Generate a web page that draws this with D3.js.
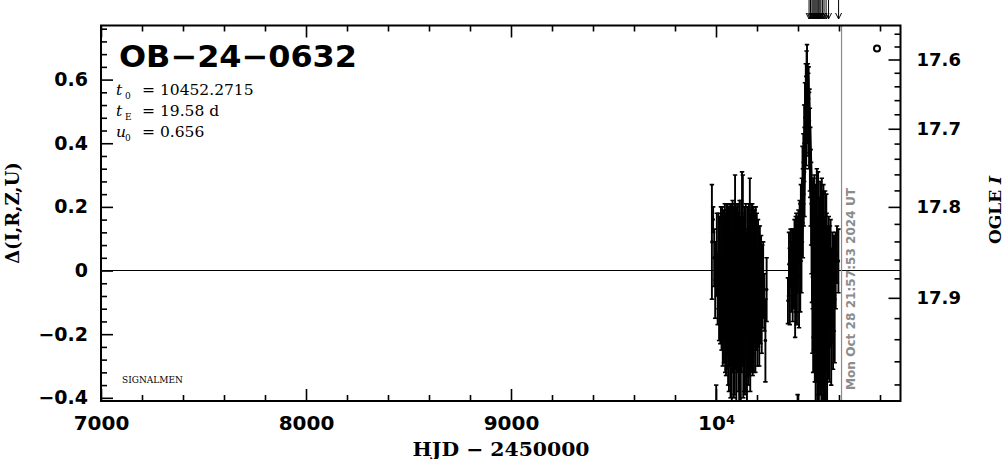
<!DOCTYPE html>
<html><head><meta charset="utf-8">
<script src="https://cdn.jsdelivr.net/npm/d3@7"></script>
<style>body{margin:0;background:#fff}svg{display:block}</style>
</head><body>
<svg id="chart" width="1004" height="459"></svg>
<script>
// ---------- values ----------
const eventName = "OB-24-0632";
const t0 = "10452.2715", tE = "19.58", u0 = "0.656";
const nowHJD = 10612.415;
const nowLabel = "Mon Oct 28 21:57:53 2024 UT";
const surveyNote = "SIGNALMEN";

const xDomain = [7000, 10900];
const yDomain = [-0.41, 0.77];
const xMajorTicks = [7000, 8000, 9000, 10000];
const yMajorTicks = [-0.4, -0.2, 0, 0.2, 0.4, 0.6];
const magMajorTicks = [17.6, 17.7, 17.8, 17.9];

// [HJD-2450000, delta, error]
const season2023 = [
 [9980,0.09,0.18],[9986,0.16,0.04],[9991,0.04,0.09],[9996,-0.03,0.12],[10001,-0.48,0.12],
 [10004,0.05,0.13],[10008,-0.06,0.11],[10012,0.03,0.15],[10015,-0.08,0.14],[10018,0.05,0.12],
 [10021,-0.04,0.19],[10024,0.08,0.12],[10027,-0.10,0.15],[10030,0.00,0.20],[10033,-0.07,0.23],
 [10036,0.04,0.15],[10039,-0.12,0.17],[10041,-0.03,0.18],[10043,0.05,0.16],[10045,-0.10,0.22],
 [10047,-0.02,0.20],[10049,-0.15,0.18],[10051,0.04,0.17],[10053,-0.06,0.25],[10055,-0.12,0.14],
 [10057,0.02,0.19],[10059,-0.08,0.28],[10061,-0.04,0.15],[10063,-0.18,0.20],[10065,0.06,0.14],
 [10067,-0.09,0.21],[10069,-0.01,0.22],[10071,-0.14,0.26],[10073,0.03,0.18],[10075,-0.07,0.16],
 [10077,-0.20,0.21],[10079,0.00,0.21],[10081,-0.05,0.27],[10083,-0.11,0.17],[10085,0.04,0.16],
 [10087,-0.16,0.24],[10089,-0.03,0.19],[10091,-0.09,0.30],[10093,0.08,0.22],[10095,-0.13,0.18],
 [10097,-0.02,0.23],[10099,-0.22,0.20],[10101,0.05,0.15],[10103,-0.07,0.25],[10105,-0.15,0.16],
 [10107,0.01,0.20],[10109,-0.10,0.28],[10111,-0.04,0.17],[10113,-0.19,0.24],[10115,0.06,0.16],
 [10117,-0.08,0.22],[10119,-0.01,0.18],[10121,-0.16,0.26],[10123,0.03,0.19],[10125,-0.12,0.20],
 [10127,0.10,0.21],[10129,-0.06,0.24],[10131,0.05,0.25],[10133,-0.21,0.19],[10135,-0.03,0.20],
 [10137,-0.11,0.27],[10139,0.02,0.18],[10141,-0.17,0.22],[10143,-0.05,0.16],[10145,0.04,0.17],
 [10147,-0.13,0.25],[10149,-0.08,0.20],[10151,-0.24,0.18],[10153,0.01,0.19],[10155,-0.10,0.23],
 [10157,-0.02,0.15],[10159,-0.15,0.21],[10161,0.03,0.18],[10163,-0.07,0.26],[10165,0.12,0.17],
 [10167,-0.18,0.20],[10169,-0.04,0.22],[10171,-0.12,0.16],[10173,0.02,0.19],[10175,-0.08,0.24],
 [10177,0.01,0.20],[10179,-0.14,0.19],[10181,-0.03,0.23],[10183,0.04,0.16],[10185,-0.11,0.21],
 [10187,-0.05,0.18],[10189,0.02,0.17],[10192,-0.13,0.19],[10194,-0.02,0.22],[10197,-0.09,0.16],
 [10199,0.03,0.15],[10202,-0.12,0.18],[10205,-0.04,0.20],[10208,0.00,0.14],[10211,-0.10,0.20],
 [10214,-0.03,0.17],[10217,-0.08,0.15],[10220,-0.01,0.12],[10223,-0.12,0.14],[10226,-0.05,0.13],
 [10230,-0.03,0.12],[10236,-0.10,0.09],[10241,-0.22,0.13],[10247,-0.06,0.10]
];
const season2024 = [
 [10351,-0.095,0.072],[10356,0.02,0.10],[10360,-0.05,0.12],[10364,0.04,0.09],[10367,-0.02,0.11],
 [10371,0.06,0.07],[10374,-0.06,0.10],[10377,0.01,0.12],[10380,-0.03,0.09],[10383,0.05,0.11],
 [10386,-0.08,0.13],[10389,0.02,0.15],[10392,0.08,0.10],[10395,-0.04,0.13],[10398,-0.52,0.13],
 [10399,0.05,0.12],[10402,0.11,0.08],[10405,-0.02,0.16],[10408,0.12,0.10],[10411,0.04,0.17],
 [10414,0.15,0.12],[10417,0.07,0.14],[10419,0.19,0.10],[10422,0.27,0.12],[10424,0.18,0.14],
 [10426,0.32,0.11],[10428,0.24,0.10],[10430,0.40,0.12],[10432,0.31,0.14],[10434,0.48,0.11],
 [10436,0.42,0.10],[10438,0.53,0.12],[10440,0.47,0.14],[10442,0.58,0.11],[10444,0.60,0.11],
 [10446,0.52,0.12],[10448,0.56,0.09],[10450,0.49,0.13],[10452,0.54,0.10],[10454,0.44,0.12],
 [10456,0.47,0.10],[10458,0.38,0.13],[10460,0.34,0.11],[10462,0.26,0.12],[10464,0.21,0.13],
 [10466,0.14,0.15],[10468,0.08,0.18],[10470,-0.02,0.24],[10472,0.08,0.20],[10474,-0.10,0.22],
 [10476,0.04,0.25],[10478,-0.06,0.19],[10480,0.10,0.20],[10482,-0.14,0.21],[10484,-0.01,0.28],
 [10486,-0.20,0.23],[10488,0.05,0.18],[10490,-0.09,0.26],[10492,0.02,0.30],[10494,-0.17,0.25],
 [10496,-0.04,0.21],[10498,0.07,0.24],[10500,-0.12,0.27],[10502,-0.25,0.20],[10504,0.00,0.23],
 [10506,-0.08,0.29],[10508,0.09,0.19],[10510,-0.15,0.24],[10512,-0.03,0.22],[10514,-0.21,0.22],
 [10516,0.03,0.26],[10518,-0.10,0.20],[10520,-0.06,0.31],[10522,-0.18,0.25],[10524,0.05,0.22],
 [10526,-0.13,0.28],[10528,-0.02,0.19],[10530,-0.23,0.21],[10532,0.01,0.24],[10534,-0.09,0.22],
 [10536,-0.16,0.26],[10538,0.04,0.20],[10540,-0.07,0.25],[10542,-0.19,0.24],[10544,-0.04,0.18],
 [10547,-0.12,0.22],[10550,0.00,0.17],[10553,-0.15,0.20],[10556,-0.05,0.19],[10559,0.02,0.14],
 [10562,-0.17,0.19],[10565,-0.08,0.15],[10568,-0.01,0.13],[10571,-0.13,0.18],[10575,-0.04,0.15],
 [10579,-0.09,0.20],[10584,0.00,0.12],[10590,0.05,0.09],[10597,0.03,0.10]
];
// model curve [HJD-2450000, delta]
const modelCurve = [
 [7000,0],[10380,0],[10412,0.05],[10422,0.10],[10432,0.22],[10442,0.44],[10452,0.61],
 [10462,0.44],[10472,0.22],[10482,0.10],[10492,0.05],[10530,0],[10900,0]
];
// arrow marks above the frame
const arrowTimes = [10454,10461,10468,10473,10478,10483,10488,10493,10498,10502,10507,10512,10520,10527,10537,10549,10598];

// ---------- drawing ----------
const svg = d3.select("#chart");
const L = 101, R = 900.5, T = 25.5, B = 401;
const x = d3.scaleLinear().domain(xDomain).range([L, R]);
const y = d3.scaleLinear().domain(yDomain).range([B, T]);

// right axis: OGLE I magnitude mapped onto delta
const magToDelta = m => 2.5 * Math.log10(2.884 * Math.pow(10, -0.4 * (m - 17.9)) - 1.96);
const magMinorTicks = d3.range(17.56, 17.99, 0.02).map(v => +v.toFixed(2));
const magKnots = [17.546].concat(magMinorTicks, [17.994]);
const yMag = d3.scaleLinear().domain(magKnots).range(magKnots.map(m => y(magToDelta(m))));

const numFont = "DejaVu Sans, sans-serif";
const serifFont = "DejaVu Serif, serif";

svg.append("defs").append("clipPath").attr("id","clip")
  .append("rect").attr("x",L).attr("y",T).attr("width",R-L).attr("height",B-T);

function styleAxis(g, size) {
  g.select(".domain").remove();
  g.attr("font-family", numFont).attr("font-size", size).attr("font-weight","bold");
  g.selectAll("line").attr("stroke","#000").attr("stroke-width",1.6);
  g.selectAll("text").attr("fill","#000");
}
const xMinor = d3.range(7000, 10901, 200).filter(v => v % 1000 !== 0);
const yMinor = d3.range(-40, 77, 4).map(v => v/100).filter(v => Math.round(v*100) % 20 !== 0);

// bottom
svg.append("g").attr("transform",`translate(0,${B})`)
  .call(d3.axisBottom(x).tickValues(xMajorTicks).tickSizeInner(-12).tickSizeOuter(0).tickPadding(15)
    .tickFormat(d => d === 10000 ? "" : String(d)))
  .call(g => styleAxis(g, 20))
  .call(g => g.selectAll(".tick").filter(d => d === 10000).select("text")
     .call(t => { t.append("tspan").text("10"); t.append("tspan").attr("dy","-0.45em").attr("font-size",13).text("4"); }));
svg.append("g").attr("transform",`translate(0,${B})`)
  .call(d3.axisBottom(x).tickValues(xMinor).tickSizeInner(-6).tickSizeOuter(0).tickFormat(""))
  .call(g => styleAxis(g, 20));
// top
svg.append("g").attr("transform",`translate(0,${T})`)
  .call(d3.axisTop(x).tickValues(xMajorTicks).tickSizeInner(-12).tickSizeOuter(0).tickFormat(""))
  .call(g => styleAxis(g, 20));
svg.append("g").attr("transform",`translate(0,${T})`)
  .call(d3.axisTop(x).tickValues(xMinor).tickSizeInner(-6).tickSizeOuter(0).tickFormat(""))
  .call(g => styleAxis(g, 20));
// left
svg.append("g").attr("transform",`translate(${L},0)`)
  .call(d3.axisLeft(y).tickValues(yMajorTicks).tickSizeInner(-12).tickSizeOuter(0).tickPadding(13)
    .tickFormat(d => d === 0 ? "0" : d3.format(".1f")(d).replace("-", "\u2212")))
  .call(g => styleAxis(g, 19));
svg.append("g").attr("transform",`translate(${L},0)`)
  .call(d3.axisLeft(y).tickValues(yMinor).tickSizeInner(-6).tickSizeOuter(0).tickFormat(""))
  .call(g => styleAxis(g, 19));
// right
svg.append("g").attr("transform",`translate(${R},0)`)
  .call(d3.axisRight(yMag).tickValues(magMajorTicks).tickSizeInner(-12).tickSizeOuter(0).tickPadding(16)
    .tickFormat(d3.format(".1f")))
  .call(g => styleAxis(g, 18));
svg.append("g").attr("transform",`translate(${R},0)`)
  .call(d3.axisRight(yMag).tickValues(magMinorTicks.filter(v => !magMajorTicks.includes(v))).tickSizeInner(-6).tickSizeOuter(0).tickFormat(""))
  .call(g => styleAxis(g, 18));

// model curve
const plot = svg.append("g").attr("clip-path","url(#clip)");
plot.append("path").datum(modelCurve)
  .attr("d", d3.line().x(d => x(d[0])).y(d => y(d[1])))
  .attr("fill","none").attr("stroke","#000").attr("stroke-width",1.1);

// data with error bars
const allData = season2023.concat(season2024);
const pts = plot.append("g").selectAll("g").data(allData).join("g");
pts.append("line").attr("x1", d => x(d[0])).attr("x2", d => x(d[0]))
  .attr("y1", d => y(d[1]-d[2])).attr("y2", d => y(d[1]+d[2]))
  .attr("stroke","#000").attr("stroke-width",1.9);
pts.append("line").attr("x1", d => x(d[0])-2.2).attr("x2", d => x(d[0])+2.2)
  .attr("y1", d => y(d[1]-d[2])).attr("y2", d => y(d[1]-d[2]))
  .attr("stroke","#000").attr("stroke-width",1.6);
pts.append("line").attr("x1", d => x(d[0])-2.2).attr("x2", d => x(d[0])+2.2)
  .attr("y1", d => y(d[1]+d[2])).attr("y2", d => y(d[1]+d[2]))
  .attr("stroke","#000").attr("stroke-width",1.6);
pts.append("circle").attr("cx", d => x(d[0])).attr("cy", d => y(d[1])).attr("r",1.8).attr("fill","#000");

// current time line
svg.append("line").attr("x1", x(nowHJD)).attr("x2", x(nowHJD)).attr("y1", T).attr("y2", B)
  .attr("stroke","#8c8c8c").attr("stroke-width",1.2);
svg.append("text").attr("transform",`translate(${x(nowHJD)+13.5},${B-11}) rotate(-90)`)
  .attr("font-family", numFont).attr("font-weight","bold").attr("font-size",12.5)
  .attr("fill","#8c8c8c").attr("textLength",202).attr("lengthAdjust","spacingAndGlyphs")
  .text(nowLabel);

// arrows above frame
const arr = svg.append("g").attr("stroke","#000").attr("stroke-width",1).attr("fill","none");
arrowTimes.forEach(t => {
  const xx = x(t);
  arr.append("line").attr("x1",xx).attr("x2",xx).attr("y1",0).attr("y2",19);
  arr.append("path").attr("d",`M${xx-3},13L${xx},19L${xx+3},13`);
});

// frame
svg.append("rect").attr("x",L).attr("y",T).attr("width",R-L).attr("height",B-T)
  .attr("fill","none").attr("stroke","#000").attr("stroke-width",2);

// small open circle symbol
svg.append("circle").attr("cx",877).attr("cy",48.5).attr("r",3).attr("fill","none")
  .attr("stroke","#000").attr("stroke-width",2);

// title
svg.append("text").attr("x",119).attr("y",67).attr("font-family",numFont).attr("font-weight","bold")
  .attr("font-size",30).attr("textLength",238).attr("lengthAdjust","spacingAndGlyphs")
  .text(eventName.replace(/-/g,"\u2212"));

// parameters
const params = [["t","0",t0+"", 95],["t","E",tE+" d",116],["u","0",u0+"",137]];
params.forEach(p => {
  const t = svg.append("text").attr("x",116).attr("y",p[3]).attr("font-family",serifFont).attr("font-size",15.5).attr("fill","#000");
  t.append("tspan").attr("font-style","italic").text(p[0]);
  t.append("tspan").attr("x",125).attr("dy",4).attr("font-size",9).text(p[1]);
  t.append("tspan").attr("x",142).attr("dy",-4).text("= " + p[2]);
});

svg.append("text").attr("x",122).attr("y",383).attr("font-family",serifFont).attr("font-size",9)
  .attr("fill","#000").text(surveyNote);

// axis titles
svg.append("text").attr("x",501).attr("y",456).attr("text-anchor","middle")
  .attr("font-family",serifFont).attr("font-weight","bold").attr("font-size",19)
  .attr("textLength",177).attr("lengthAdjust","spacingAndGlyphs").text("HJD \u2212 2450000");
svg.append("text").attr("transform","translate(19,213) rotate(-90)").attr("text-anchor","middle")
  .attr("font-family",serifFont).attr("font-weight","bold").attr("font-size",18).text("\u0394(I,R,Z,U)");
const ol = svg.append("text").attr("transform","translate(1001,210) rotate(-90)").attr("text-anchor","middle")
  .attr("font-family",serifFont).attr("font-weight","bold").attr("font-size",17);
ol.append("tspan").text("OGLE ");
ol.append("tspan").attr("font-style","italic").text("I");
</script>
</body></html>
